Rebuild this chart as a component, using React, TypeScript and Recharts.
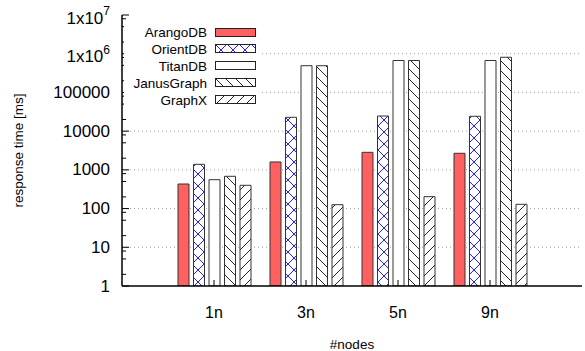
import { Bar, BarChart, CartesianGrid, XAxis, YAxis } from "recharts";

const categories = ["1n", "3n", "5n", "9n"];
const arangoDB = [431, 1600, 2840, 2680];
const orientDB = [1390, 22800, 24600, 24200];
const titanDB = [557, 490000, 668000, 668000];
const janusGraph = [682, 490000, 668000, 810000];
const graphX = [399, 126, 203, 129];

const majorTicks = [1, 10, 100, 1000, 10000, 100000, 1000000, 10000000];
const minorSteps = [2, 5, 8];

const FONT = "'Liberation Sans', Arial, Helvetica, sans-serif";

const series = [
  { key: "arango", name: "ArangoDB", values: arangoDB, fill: "#ff6161" },
  { key: "orient", name: "OrientDB", values: orientDB, fill: "url(#crossBlue)" },
  { key: "titan", name: "TitanDB", values: titanDB, fill: "#ffffff" },
  { key: "janus", name: "JanusGraph", values: janusGraph, fill: "url(#hatchBack)" },
  { key: "graphx", name: "GraphX", values: graphX, fill: "url(#hatchFwd)" },
];

const chartData = categories.map((cat, i) => {
  const row: Record<string, string | number> = { cat };
  series.forEach((s) => (row[s.key] = s.values[i]));
  return row;
});

const allTicks: number[] = [];
majorTicks.forEach((m, i) => {
  allTicks.push(m);
  if (i < majorTicks.length - 1) minorSteps.forEach((s) => allTicks.push(m * s));
});
allTicks.sort((a, b) => a - b);

const isMajor = (v: number) => majorTicks.includes(v);

function LeftTick({ x, y, payload }: any) {
  const v = payload.value as number;
  const major = isMajor(v);
  const exp = Math.round(Math.log10(v));
  return (
    <g>
      <line x1={x} x2={x + (major ? 7 : 4)} y1={y} y2={y} stroke="#000" />
      {major &&
        (v >= 1000000 ? (
          <text x={x - 12} y={y + 3} textAnchor="end" dominantBaseline="central" fontSize={17} fontFamily={FONT} fill="#000">
            1x10<tspan dy={-7} fontSize={12}>{exp}</tspan>
          </text>
        ) : (
          <text x={x - 12} y={y} textAnchor="end" dominantBaseline="central" fontSize={17} fontFamily={FONT} fill="#000">
            {v}
          </text>
        ))}
    </g>
  );
}

function RightTick({ x, y, payload }: any) {
  const major = isMajor(payload.value);
  return <line x1={x - (major ? 7 : 4)} x2={x} y1={y} y2={y} stroke="#000" />;
}

function BottomTick({ x, y, payload }: any) {
  return (
    <g>
      <line x1={x} x2={x} y1={y - 6} y2={y} stroke="#000" />
      <text x={x} y={y + 26} textAnchor="middle" dominantBaseline="central" fontSize={16} fontFamily={FONT} fill="#000">
        {payload.value}
      </text>
    </g>
  );
}

function TopTick({ x, y }: any) {
  return <line x1={x} x2={x} y1={y} y2={y + 6} stroke="#000" />;
}

function Swatch({ fill }: { fill: string }) {
  return (
    <svg width={42} height={10} style={{ marginLeft: 8, display: "block" }}>
      <rect x={0.5} y={0.5} width={40} height={8} fill={fill} stroke="#222" />
    </svg>
  );
}

export default function App() {
  return (
    <div style={{ position: "absolute", left: 0, top: 0, width: 585, height: 351, background: "#fff", fontFamily: FONT }}>
      <svg width={0} height={0} style={{ position: "absolute" }}>
        <defs>
          <pattern id="crossBlue" patternUnits="userSpaceOnUse" width={12} height={12}>
            <rect width={12} height={12} fill="#fff" />
            <path d="M0 0 L12 12 M12 0 L0 12" stroke="#2020ff" strokeWidth={1} />
          </pattern>
          <pattern id="hatchBack" patternUnits="userSpaceOnUse" width={10} height={10}>
            <rect width={10} height={10} fill="#fff" />
            <path d="M0 0 L10 10 M-1 9 L1 11 M9 -1 L11 1" stroke="#222" strokeWidth={1} />
          </pattern>
          <pattern id="hatchFwd" patternUnits="userSpaceOnUse" width={10} height={10}>
            <rect width={10} height={10} fill="#fff" />
            <path d="M0 10 L10 0 M-1 1 L1 -1 M9 11 L11 9" stroke="#222" strokeWidth={1} />
          </pattern>
        </defs>
      </svg>
      <BarChart
        width={585}
        height={351}
        data={chartData}
        margin={{ top: 15, right: 3, left: 22, bottom: 0 }}
        barGap={4.5}
      >
        <CartesianGrid
          vertical={false}
          horizontalValues={[10, 100, 1000, 10000, 100000, 1000000]}
          stroke="#a0a0a0"
          strokeDasharray="1 3"
        />
        <XAxis
          dataKey="cat"
          height={65}
          padding={{ left: 46, right: 46 }}
          tickSize={0}
          tickMargin={0}
          tickLine={false}
          interval={0}
          axisLine={{ stroke: "#000", strokeWidth: 1.5 }}
          tick={<BottomTick />}
          label={({ viewBox }: any) => (
            <text
              x={viewBox.x + viewBox.width / 2}
              y={viewBox.y + viewBox.height - 2}
              textAnchor="middle"
              fontSize={13.5}
              fontFamily={FONT}
              fill="#000"
            >
              #nodes
            </text>
          )}
        />
        <XAxis
          xAxisId="top"
          orientation="top"
          dataKey="cat"
          height={0}
          padding={{ left: 46, right: 46 }}
          tickSize={0}
          tickMargin={0}
          tickLine={false}
          interval={0}
          axisLine={{ stroke: "#000", strokeWidth: 1.5 }}
          tick={<TopTick />}
        />
        <YAxis
          scale="log"
          domain={[1, 10000000]}
          allowDataOverflow
          ticks={allTicks}
          interval={0}
          width={100}
          tickSize={0}
          tickMargin={0}
          tickLine={false}
          axisLine={{ stroke: "#000", strokeWidth: 1.5 }}
          tick={<LeftTick />}
          label={({ viewBox }: any) => (
            <text
              x={18}
              y={viewBox.y + viewBox.height / 2}
              transform={`rotate(-90, 18, ${viewBox.y + viewBox.height / 2})`}
              textAnchor="middle"
              dominantBaseline="central"
              fontSize={13.5}
              fontFamily={FONT}
              fill="#000"
            >
              response time [ms]
            </text>
          )}
        />
        <YAxis
          yAxisId="r"
          orientation="right"
          scale="log"
          domain={[1, 10000000]}
          allowDataOverflow
          ticks={allTicks}
          interval={0}
          width={0}
          tickSize={0}
          tickMargin={0}
          tickLine={false}
          axisLine={{ stroke: "#000", strokeWidth: 1.5 }}
          tick={<RightTick />}
        />
        {series.map((s) => (
          <Bar
            key={s.key}
            dataKey={s.key}
            name={s.name}
            fill={s.fill}
            stroke="#333"
            strokeWidth={1}
            barSize={11}
            isAnimationActive={false}
          />
        ))}
      </BarChart>
      <div style={{ position: "absolute", left: 124, top: 24, width: 138, height: 86, background: "#fff" }}>
        {series.map((s, i) => (
          <div
            key={s.key}
            style={{ position: "absolute", left: 0, top: i * 16.9, height: 17, width: 138, display: "flex", alignItems: "center" }}
          >
            <span style={{ width: 83, textAlign: "right", fontSize: 13.5, color: "#000", lineHeight: "17px" }}>{s.name}</span>
            <Swatch fill={s.fill} />
          </div>
        ))}
      </div>
    </div>
  );
}
